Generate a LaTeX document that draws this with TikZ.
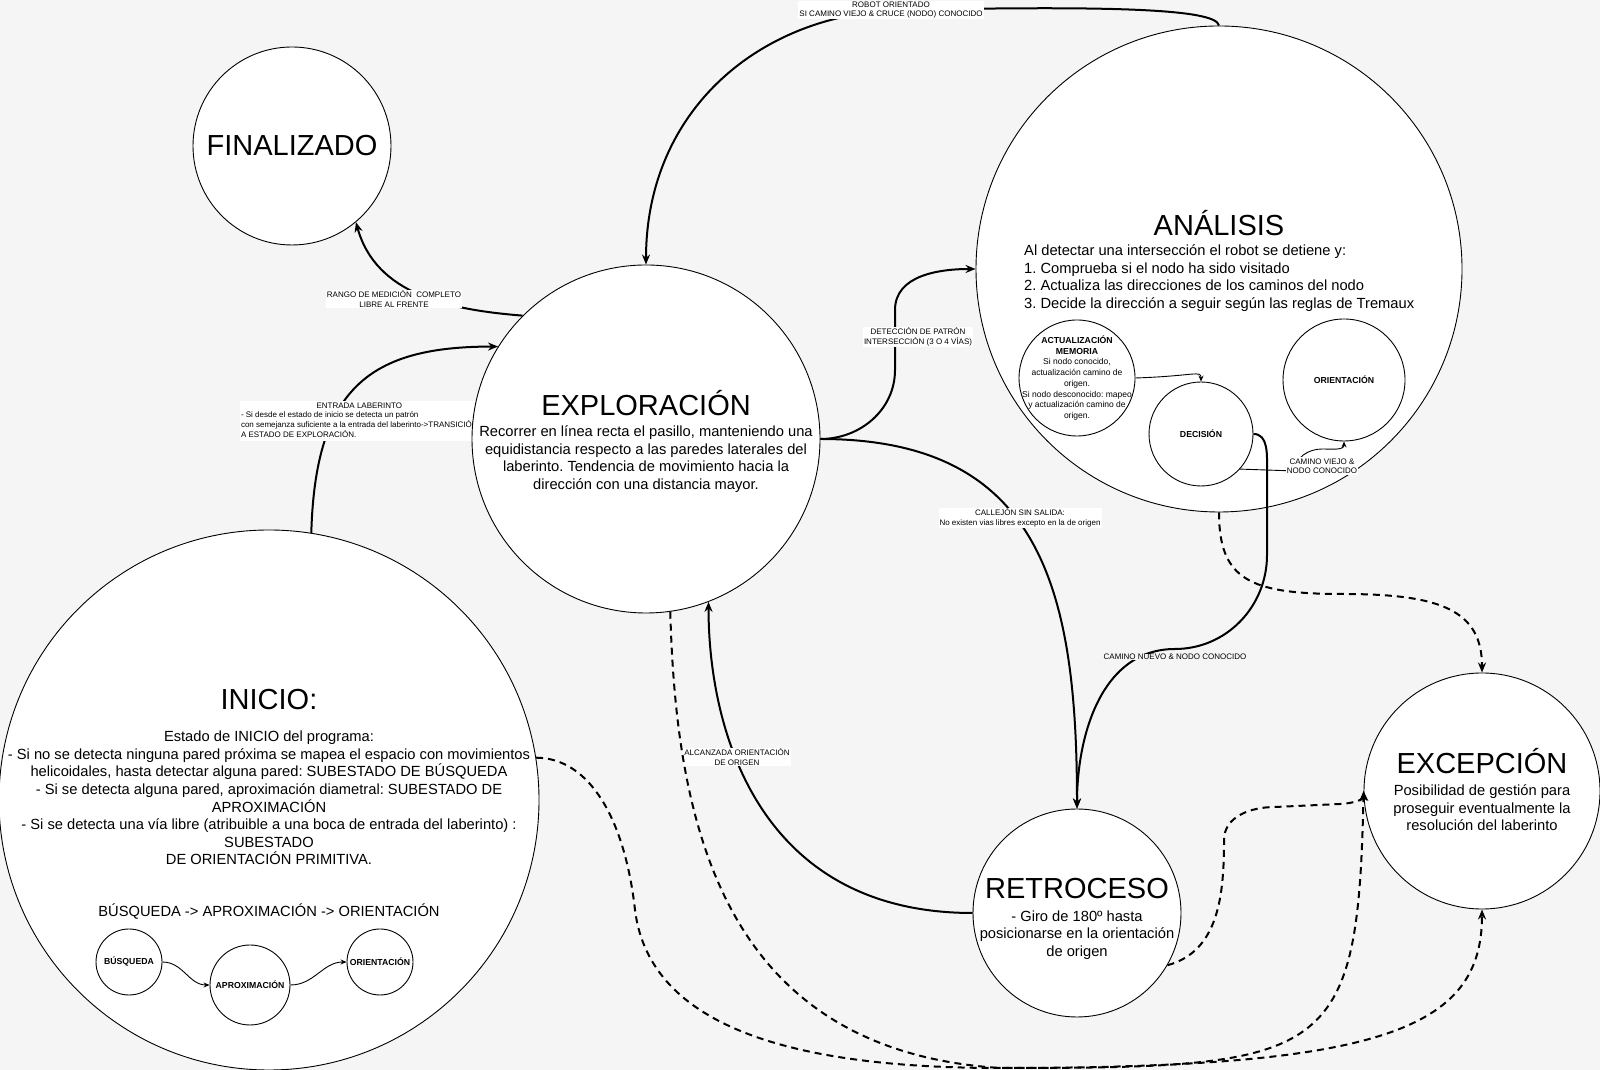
\documentclass[tikz,border=0pt]{standalone}
\usepackage{fontspec}
\setmainfont{Liberation Sans}
\usetikzlibrary{arrows.meta}

\definecolor{fondo}{RGB}{245,245,245}
\pgfdeclarelayer{capafondo}
\pgfdeclarelayer{detras}
\pgfsetlayers{capafondo,detras,main}
\frenchspacing

\begin{document}
\begin{tikzpicture}[x=1pt, y=1pt]
        % Estilos de estados, textos y transiciones
        \tikzstyle{estado}=[circle, draw, fill=white, line width=0.9pt, inner sep=0pt]
        \tikzstyle{titulo}=[inner sep=0pt, font=\fontsize{29}{33}\selectfont]
        \tikzstyle{cuerpo}=[inner sep=0pt, align=center, font=\fontsize{14.7}{17.6}\selectfont]
        \tikzstyle{subestado}=[font=\bfseries\fontsize{8.7}{10.4}\selectfont]
        \tikzstyle{etiq}=[fill=white, inner sep=1pt, align=center, font=\fontsize{8}{9.4}\selectfont]
        \tikzstyle{flecha}=[line width=2pt, -{Stealth[length=10pt, width=8pt]}]
        \tikzstyle{fina}=[line width=0.9pt, -{Stealth[length=6pt, width=5pt]}]
        \tikzstyle{discont}=[flecha, dash pattern=on 7pt off 5pt]

        \useasboundingbox (0,0) rectangle (1600,1070);
        \begin{pgfonlayer}{capafondo}
            \fill[fondo] (0,0) rectangle (1600,1070);
        \end{pgfonlayer}

        % Estados principales
        \node[estado, minimum size=198, font=\fontsize{29}{33}\selectfont] (fin) at (292,924) {FINALIZADO};

        \node[estado, minimum size=348] (explo) at (646,631) {};
        \node[titulo] (explo-tit) at (646,667) {EXPLORACIÓN};
        \node[cuerpo] (explo-txt) at (646,611) {Recorrer en línea recta el pasillo, manteniendo una\\equidistancia respecto a las paredes laterales del\\laberinto. Tendencia de movimiento hacia la\\dirección con una distancia mayor.};

        \node[estado, minimum size=486] (ana) at (1219,801) {};
        \node[titulo] (ana-tit) at (1219,847) {ANÁLISIS};
        \node[cuerpo, align=left, anchor=west] (ana-txt) at (1024,792) {Al detectar una intersección el robot se detiene y:\\1. Comprueba si el nodo ha sido visitado\\2. Actualiza las direcciones de los caminos del nodo\\3. Decide la dirección a seguir según las reglas de Tremaux};

        \node[estado, minimum size=540] (ini) at (269,270) {};
        \node[titulo] (ini-tit) at (269,370) {INICIO:};
        \node[cuerpo] (ini-txt) at (269,272) {Estado de INICIO del programa:\\- Si no se detecta ninguna pared próxima se mapea el espacio con movimientos\\helicoidales, hasta detectar alguna pared: SUBESTADO DE BÚSQUEDA\\- Si se detecta alguna pared, aproximación diametral: SUBESTADO DE\\APROXIMACIÓN\\- Si se detecta una vía libre (atribuible a una boca de entrada del laberinto) :\\SUBESTADO\\DE ORIENTACIÓN PRIMITIVA.};
        \node[cuerpo] (ini-sec) at (269,158) {BÚSQUEDA -> APROXIMACIÓN -> ORIENTACIÓN};

        \node[estado, minimum size=208] (retro) at (1077,157) {};
        \node[titulo] (retro-tit) at (1077,181) {RETROCESO};
        \node[cuerpo] (retro-txt) at (1077,135) {- Giro de 180º hasta\\posicionarse en la orientación\\de origen};

        \node[estado, minimum size=236] (exc) at (1482,279) {};
        \node[titulo] (exc-tit) at (1482,309) {EXCEPCIÓN};
        \node[cuerpo] (exc-txt) at (1482,262) {Posibilidad de gestión para\\proseguir eventualmente la\\resolución del laberinto};

        % Subestados de ANÁLISIS
        \node[estado, minimum size=116] (mem) at (1077,692) {};
        \node[inner sep=0pt, align=center, font=\fontsize{8.5}{10.7}\selectfont] (mem-txt) at (1077,692) {{\bfseries\fontsize{8.7}{10.7}\selectfont ACTUALIZACIÓN}\\{\bfseries\fontsize{8.7}{10.7}\selectfont MEMORIA}\\Si nodo conocido,\\actualización camino de\\origen.\\Si nodo desconocido: mapeo\\y actualización camino de\\origen.};
        \node[estado, subestado, minimum size=104] (dec) at (1201,636) {DECISIÓN};
        \node[estado, subestado, minimum size=122] (ori) at (1344,690) {ORIENTACIÓN};

        % Subestados de INICIO
        \node[estado, subestado, minimum size=66] (bus) at (129,108) {BÚSQUEDA};
        \node[estado, subestado, minimum size=80] (apr) at (250,85) {APROXIMACIÓN};
        \node[estado, subestado, minimum size=66] (orp) at (380,108) {ORIENTACIÓN};

        % Transiciones
        \draw[flecha] (explo.135) .. controls +(-75,6) and +(20,-72) .. (fin.-50)
            node[etiq] at (394,771) {RANGO DE MEDICIÓN\ \ COMPLETO\\LIBRE AL FRENTE};
        \begin{pgfonlayer}{detras}
        \draw[flecha] (ini.81) .. controls +(4,145) and +(-128,0) .. (explo.148)
            node[etiq, anchor=west] at (239,649) {\begin{tabular}{@{}l@{}}\multicolumn{1}{@{}c@{}}{ENTRADA LABERINTO}\\- Si desde el estado de inicio se detecta un patrón\\con semejanza suficiente a la entrada del laberinto->TRANSICIÓN\\A ESTADO DE EXPLORACIÓN.\end{tabular}};
        \end{pgfonlayer}
        \draw[flecha] (ana.north) .. controls (1216,1062) and (1100,1064) .. (900,1060)
            .. controls (760,1056) and (646,960) .. (explo.north)
            node[etiq] at (891,1060) {ROBOT ORIENTADO\\SI CAMINO VIEJO \& CRUCE (NODO) CONOCIDO};
        \draw[flecha] (explo.east) to[out=0, in=-90] (895,700) -- (895,760) to[out=90, in=180] (ana.west)
            node[etiq] at (918,733) {DETECCIÓN DE PATRÓN\\INTERSECCIÓN (3 O 4 VÍAS)};
        \draw[flecha] (explo.east) .. controls +(220,0) and +(0,220) .. (retro.north)
            node[etiq] at (1020,552) {CALLEJÓN SIN SALIDA:\\No existen vias libres excepto en la de origen};
        \draw[flecha] (retro.west) .. controls +(-213,0) and +(0,-130) .. (explo.-69)
            node[etiq] at (737,313) {ALCANZADA ORIENTACIÓN\\DE ORIGEN};
        \draw[flecha] (dec.east) to[out=0, in=90] (1267,600) -- (1267,515) to[out=-90, in=0] (1175,421) to[out=180, in=90] (retro.north)
            node[etiq, fill=fondo, inner sep=0.5pt] at (1175,413) {CAMINO NUEVO \& NODO CONOCIDO};

        % Transiciones internas
        \draw[fina] (mem.east) .. controls (1195,694) and (1201,700) .. (dec.north);
        \draw[fina] (dec.-42) -- (1295,599) to[out=90, in=180] (1322,621) to[out=0, in=-90] (ori.south)
            node[etiq] at (1322,604) {CAMINO VIEJO \&\\NODO CONOCIDO};
        \draw[fina] (bus.east) to[out=0, in=180] (apr.west);
        \draw[fina] (apr.east) to[out=0, in=180] (orp.west);

        % Transiciones a EXCEPCIÓN
        \draw[discont] (ana.south) .. controls (1219,490) and (1250,476) .. (1343,476)
            .. controls (1440,476) and (1482,460) .. (exc.north);
        \draw[discont] (retro.-30) to[out=15, in=-90] (1224,230) to[out=90, in=180] (1275,263) -- (1340,266)
            .. controls (1358,267) and (1364,272) .. (exc.west);
        \draw[discont] (ini.9) .. controls (590,312) and (625,250) .. (635,160)
            .. controls (650,40) and (800,2) .. (1000,2) .. controls (1380,2) and (1482,40) .. (exc.south);
        \draw[discont] (explo.-82) .. controls (676,250) and (720,20) .. (1000,2)
            .. controls (1330,2) and (1358,10) .. (exc.west);
\end{tikzpicture}
\end{document}
